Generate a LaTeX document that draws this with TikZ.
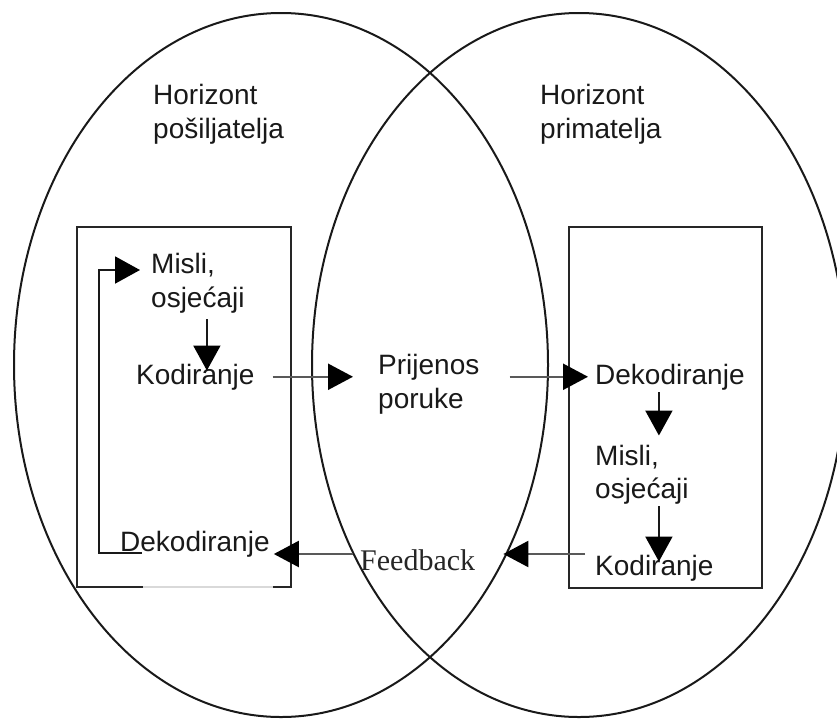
\documentclass[tikz,border=0pt]{standalone}
\usepackage{fontspec}
\setmainfont{Liberation Sans}
\newfontfamily\fbfont{Liberation Serif}
\usetikzlibrary{arrows.meta}
\begin{document}
\begin{tikzpicture}[x=1pt,y=-1pt,
  lbl/.style={anchor=base west, inner sep=0pt, font=\fontsize{28}{34}\selectfont, align=left, text=black!90},
  ring/.style={line width=2pt, black!90},
  boxline/.style={line width=2pt, black!85},
  arr/.style={line width=2.2pt, black!65, -{Triangle[length=25pt,width=26pt,color=black]}},
  varr/.style={line width=2pt, black!90, -{Triangle[length=25pt,width=27pt,color=black]}},
 ]
\useasboundingbox (0,0) rectangle (837,718);
\clip (0,0) rectangle (837,718);
% horizons
\draw[ring] (281,365) ellipse [x radius=267, y radius=352];
\draw[ring] (579,365) ellipse [x radius=267, y radius=352];
% boxes
\draw[boxline] (143,587) -- (77,587) -- (77,227) -- (291,227) -- (291,587) -- (273,587);
\draw[line width=1.8pt, black!15] (143,587) -- (273,587);
\draw[boxline] (569,227) rectangle (762,588);
% labels (base = baseline of the last line)
\node[lbl] (horL) at (153,138) {Horizont\\pošiljatelja};
\node[lbl] (horR) at (540,138) {Horizont\\primatelja};
\node[lbl] (mislL) at (151,307) {Misli,\\osjećaji};
\node[lbl] (kodL) at (136,384) {Kodiranje};
\node[lbl] (dekL) at (120,551) {Dekodiranje};
\node[lbl] (prij) at (378,408) {Prijenos\\poruke};
\node[lbl] (dekR) at (595,384) {Dekodiranje};
\node[lbl, font=\fontsize{28}{33}\selectfont] (mislR) at (595,498) {Misli,\\osjećaji};
\node[lbl] (kodR) at (595,575) {Kodiranje};
\node[anchor=base west, inner sep=0pt, font=\fbfont\fontsize{30}{34}\selectfont, text=black!85] (fb) at (360,570) {Feedback};
% left box arrows
\draw[varr, shorten <=6pt, shorten >=-7pt] ([xshift=9pt]mislL.south) -- ([xshift=9pt]mislL.south |- kodL.north);
\draw[varr] ([shift={(22pt,-2pt)}]dekL.base west) -- ++(-43pt,0pt) |- ([shift={(-11pt,37pt)}]mislL.base west);
% transmission
\draw[arr, shorten <=18pt, shorten >=25pt] (kodL.east) -- (kodL.east -| prij.west);
\draw[arr, shorten >=7pt] ([xshift=30pt]kodL.east -| prij.east) -- (kodL.east -| dekR.west);
% right box arrows
\draw[varr, shorten <=2pt, shorten >=9pt] ([xshift=-11pt]dekR.south) -- ([xshift=-11pt]dekR.south |- mislR.north);
\draw[varr, shorten <=2pt, shorten >=-7pt] ([xshift=-11pt]dekR.south |- mislR.south) -- ([xshift=-11pt]dekR.south |- kodR.north);
% feedback
\coordinate (r0) at ([shift={(-10pt,21pt)}]kodR.base west);
\draw[arr, shorten >=28pt] (r0) -- (r0 -| fb.east);
\draw[arr, shorten <=7pt, shorten >=4pt] (r0 -| fb.west) -- (r0 -| dekL.east);
\end{tikzpicture}
\end{document}
